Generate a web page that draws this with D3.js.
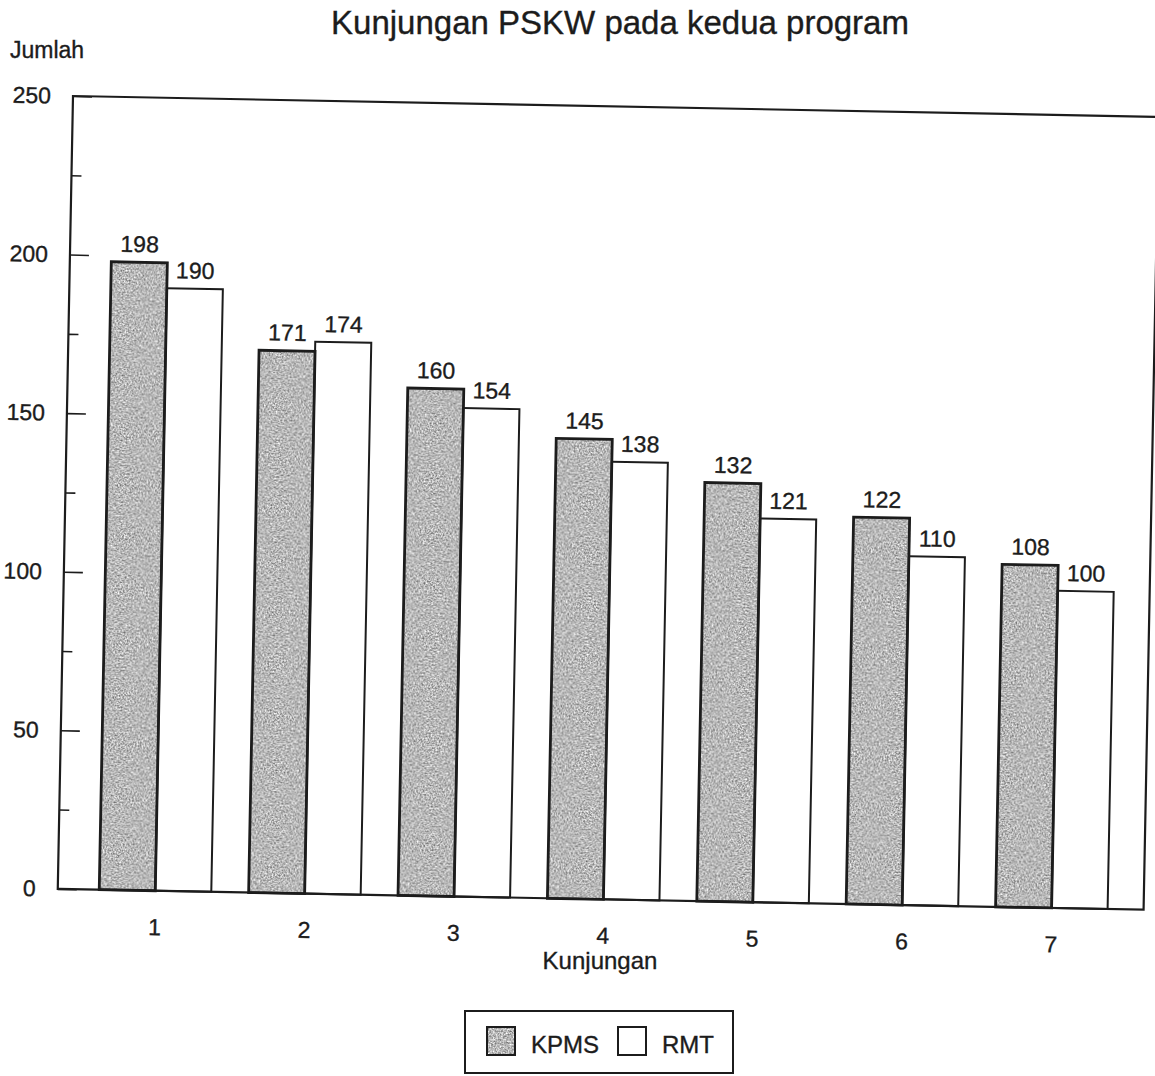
<!DOCTYPE html>
<html>
<head>
<meta charset="utf-8">
<script src="https://cdn.jsdelivr.net/npm/d3@7"></script>
<style>
  html, body { margin: 0; padding: 0; background: #fff; }
  svg { display: block; font-family: "Liberation Sans", Arial, Helvetica, sans-serif; }
  svg text { stroke: #1c1c1c; stroke-width: 0.35px; }
</style>
</head>
<body>
<svg id="chart" width="1155" height="1076"></svg>
<script>
// Kunjungan (visit) number on the x axis
const categories = ["1", "2", "3", "4", "5", "6", "7"];
// Visit counts per programme
const kpms = [198, 171, 160, 145, 132, 122, 108];
const rmt  = [190, 174, 154, 138, 121, 110, 100];
const seriesNames = ["KPMS", "RMT"];
const majorTicks = [0, 50, 100, 150, 200, 250];
const minorTicks = [25, 75, 125, 175, 225];

const svg = d3.select("#chart");
const ink = "#1c1c1c";

// Stippled grey fill used for the KPMS bars
const defs = svg.append("defs");
const grain = defs.append("filter")
  .attr("id", "grain")
  .attr("x", 0).attr("y", 0).attr("width", 1).attr("height", 1)
  .attr("color-interpolation-filters", "sRGB");
grain.append("feTurbulence")
  .attr("type", "fractalNoise")
  .attr("baseFrequency", 0.6)
  .attr("numOctaves", 2)
  .attr("seed", 7)
  .attr("result", "noise");
grain.append("feColorMatrix")
  .attr("in", "noise")
  .attr("type", "matrix")
  .attr("values", "0.9 0 0 0 0.27  0.9 0 0 0 0.27  0.9 0 0 0 0.27  0 0 0 0 1");

// Plot frame geometry (the printed plot sits at a slight tilt)
const W = 1086, H = 793;
const plot = svg.append("g")
  .attr("transform", "translate(73,96) rotate(1.1)");

const y = d3.scaleLinear().domain([0, 250]).range([H, 0]);
const x0 = d3.scaleBand().domain(categories)
  .range([22.8, 1068.7]).paddingInner(0.25).paddingOuter(0.125);
const x1 = d3.scaleBand().domain(seriesNames).range([0, x0.bandwidth()]);

const rows = categories.map((c, i) => ({ cat: c, values: [
  { key: "KPMS", value: kpms[i] },
  { key: "RMT", value: rmt[i] }
]}));

// Bars
const groups = plot.selectAll("g.grp").data(rows).join("g")
  .attr("class", "grp")
  .attr("transform", d => `translate(${x0(d.cat)},0)`);

groups.selectAll("rect.fill").data(d => d.values).join("rect")
  .attr("class", "fill")
  .attr("x", d => x1(d.key))
  .attr("y", d => y(d.value))
  .attr("width", x1.bandwidth())
  .attr("height", d => y(0) - y(d.value))
  .attr("fill", d => d.key === "KPMS" ? "#b0b0b0" : "#fff")
  .attr("filter", d => d.key === "KPMS" ? "url(#grain)" : null);

groups.selectAll("rect.edge").data(d => d.values).join("rect")
  .attr("class", "edge")
  .attr("x", d => x1(d.key))
  .attr("y", d => y(d.value))
  .attr("width", x1.bandwidth())
  .attr("height", d => y(0) - y(d.value))
  .attr("fill", "none")
  .attr("stroke", ink)
  .attr("stroke-width", d => d.key === "KPMS" ? 2.8 : 2);

// Value labels
groups.selectAll("text.val").data(d => d.values).join("text")
  .attr("class", "val")
  .attr("x", d => x1(d.key) + x1.bandwidth() / 2)
  .attr("y", d => y(d.value) - 10)
  .attr("text-anchor", "middle")
  .attr("font-size", 23)
  .attr("fill", ink)
  .text(d => d.value);

// Frame
plot.append("rect")
  .attr("x", 0).attr("y", 0).attr("width", W).attr("height", H)
  .attr("fill", "none").attr("stroke", ink).attr("stroke-width", 2.2);

// Y axis: major ticks with labels, minor ticks without
const yAxis = plot.append("g").call(
  d3.axisLeft(y).tickValues(majorTicks).tickSize(-19).tickPadding(22).tickFormat(d3.format("d")));
const yMinor = plot.append("g").call(
  d3.axisLeft(y).tickValues(minorTicks).tickSize(-10).tickFormat(""));
[yAxis, yMinor].forEach(g => {
  g.select(".domain").remove();
  g.selectAll(".tick line").attr("stroke", ink).attr("stroke-width", 1.6);
});
yAxis.selectAll("text").attr("font-size", 23).attr("fill", ink)
  .attr("font-family", "Liberation Sans, Arial, sans-serif");

// X axis category labels
const xAxis = plot.append("g").attr("transform", `translate(0,${H})`)
  .call(d3.axisBottom(x0).tickSize(0).tickPadding(28));
xAxis.select(".domain").remove();
xAxis.selectAll("text").attr("font-size", 23).attr("fill", ink)
  .attr("font-family", "Liberation Sans, Arial, sans-serif");

// Titles
svg.append("text")
  .attr("x", 620).attr("y", 34)
  .attr("text-anchor", "middle")
  .attr("font-size", 33)
  .attr("fill", ink)
  .text("Kunjungan PSKW pada kedua program");

svg.append("text")
  .attr("x", 10).attr("y", 58)
  .attr("font-size", 23)
  .attr("fill", ink)
  .text("Jumlah");

svg.append("text")
  .attr("x", 600).attr("y", 969)
  .attr("text-anchor", "middle")
  .attr("font-size", 24)
  .attr("fill", ink)
  .text("Kunjungan");

// Legend
const legend = svg.append("g").attr("transform", "translate(465,1011)");
legend.append("rect")
  .attr("width", 268).attr("height", 62)
  .attr("fill", "#fff").attr("stroke", ink).attr("stroke-width", 2);

const legendItems = [
  { name: seriesNames[0], sx: 22, tx: 66 },
  { name: seriesNames[1], sx: 153, tx: 197 }
];
legendItems.forEach(it => {
  const isK = it.name === "KPMS";
  legend.append("rect")
    .attr("x", it.sx).attr("y", 16).attr("width", 28).attr("height", 28)
    .attr("fill", isK ? "#b0b0b0" : "#fff")
    .attr("filter", isK ? "url(#grain)" : null);
  legend.append("rect")
    .attr("x", it.sx).attr("y", 16).attr("width", 28).attr("height", 28)
    .attr("fill", "none").attr("stroke", ink).attr("stroke-width", 2);
  legend.append("text")
    .attr("x", it.tx).attr("y", 42)
    .attr("font-size", 24)
    .attr("fill", ink)
    .text(it.name);
});
</script>
</body>
</html>
